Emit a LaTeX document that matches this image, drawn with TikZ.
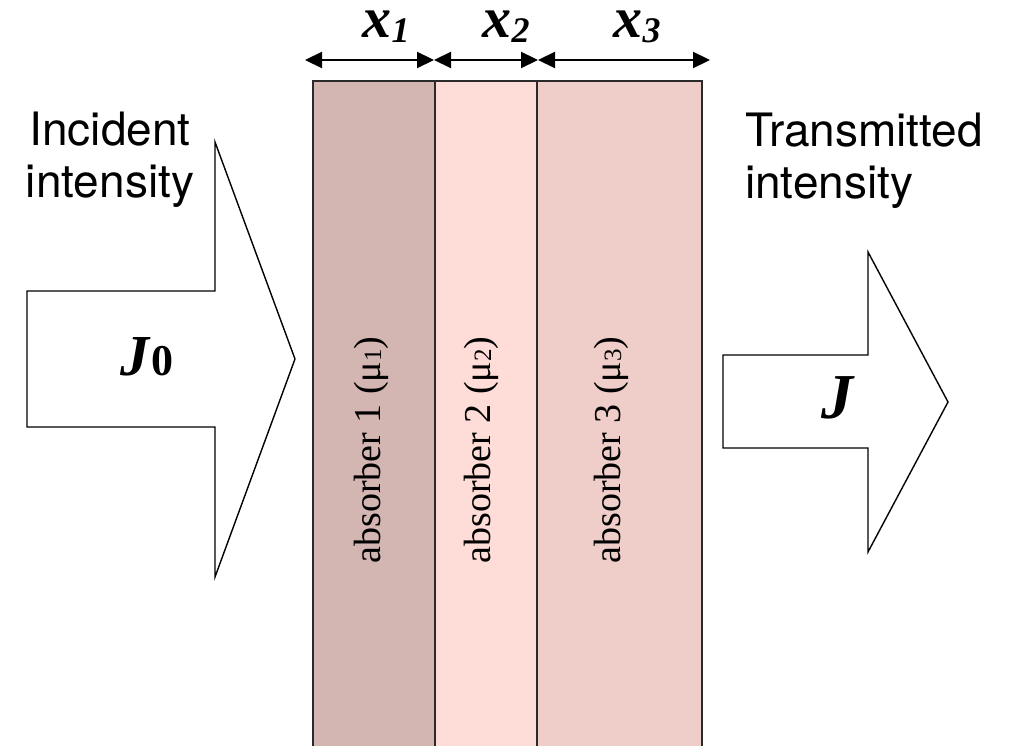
\documentclass[tikz,border=0pt]{standalone}
\usepackage{fontspec}
\setmainfont{Liberation Serif}
\newfontfamily\helv{TeX Gyre Heros}
\usetikzlibrary{arrows.meta}
\definecolor{absA}{HTML}{D3B5B2}
\definecolor{absB}{HTML}{FEDCD8}
\definecolor{absC}{HTML}{EFCDC8}
\definecolor{slabline}{HTML}{2A2A2A}
\newcommand{\subdig}[1]{{\fontsize{36}{36}\selectfont\raisebox{-5pt}{#1}}}
\newcommand{\musub}[1]{{\fontsize{25}{25}\selectfont\raisebox{-1pt}{#1}}}
\tikzset{
  slab/.style={draw=slabline, line width=1.8pt, inner sep=0pt, outer sep=0pt, minimum height=700pt, anchor=north west},
  bigarrow/.style={draw=black, fill=white, line width=1.4pt, line join=miter},
  dimline/.style={line width=2.2pt, {Triangle[length=17pt,width=16pt]}-{Triangle[length=17pt,width=16pt]}},
  sidelabel/.style={font=\helv\fontsize{46}{52}\selectfont, inner sep=0pt, align=center},
  abslabel/.style={font=\fontsize{38}{40}\selectfont, rotate=90, inner sep=0pt},
  dimlabel/.style={font=\bfseries\itshape\fontsize{58}{60}\selectfont, inner sep=0pt, anchor=base, text height=28pt, text depth=6pt},
  flux/.style={font=\bfseries\fontsize{58}{60}\selectfont, inner sep=0pt, anchor=base}
}
\begin{document}
\begin{tikzpicture}[x=1pt,y=-1pt]
\useasboundingbox (0,0) rectangle (1017,746);
\clip (0,0) rectangle (1017,746);
% absorber slabs
\node[slab, fill=absA, minimum width=122pt] (s1) at (313,81) {};
\node[slab, fill=absB, minimum width=102pt] (s2) at (435,81) {};
\node[slab, fill=absC, minimum width=165pt] (s3) at (537,81) {};
\node[abslabel] (l1) at (371,450) {absorber 1 (μ\musub{1})};
\node[abslabel] (l2) at (481,450) {absorber 2 (μ\musub{2})};
\node[abslabel] (l3) at (611,450) {absorber 3 (μ\musub{3})};
% thickness dimension lines
\coordinate (d0) at (305,60);
\coordinate (d1) at (434,60);
\coordinate (d2) at (538,60);
\coordinate (d3) at (710,60);
\draw[dimline] (d0) -- (d1);
\draw[dimline] (d1) -- (d2);
\draw[dimline] (d2) -- (d3);
\node[dimlabel] (x1) at (386,38) {x\subdig{1}};
\node[dimlabel] (x2) at (506,38) {x\subdig{2}};
\node[dimlabel] (x3) at (637,38) {x\subdig{3}};
% incident arrow
\draw[bigarrow] (27,291) -- (215,291) -- (215,142) -- (295,359) -- (215,577) -- (215,427) -- (27,427) -- cycle;
\node[flux] (j0) at (147,375) {\textit{J}{\fontsize{44}{44}\selectfont 0}};
\node[sidelabel, anchor=north] (inc) at (110,112) {Incident\\intensity};
% transmitted arrow
\draw[bigarrow] (723,355) -- (868,355) -- (868,252) -- (948,402) -- (868,552) -- (868,448) -- (723,448) -- cycle;
\node[flux, font=\bfseries\fontsize{64}{66}\selectfont] (j) at (838,418) {\textit{J}};
\node[sidelabel, anchor=north west, align=left] (tra) at (745,113) {Transmitted\\intensity};
\end{tikzpicture}
\end{document}
